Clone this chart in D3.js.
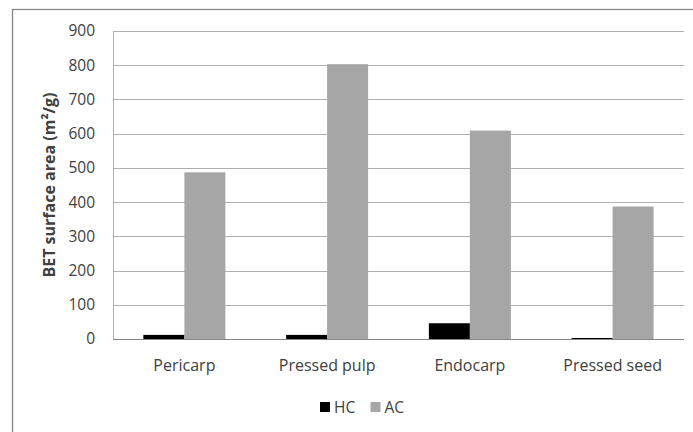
<!DOCTYPE html>
<html>
<head>
<meta charset="utf-8">
<script src="https://cdn.jsdelivr.net/npm/d3@7"></script>
<style>
  html, body { margin: 0; padding: 0; background: #fff; }
  svg { display: block; }
  text { font-family: "Open Sans", "Liberation Sans", sans-serif; fill: #404040; }
</style>
</head>
<body>
<svg id="chart" width="693" height="432"></svg>
<script>
// BET surface area of hydrochar (HC) and activated carbon (AC) by feedstock fraction
const categories = ["Pericarp", "Pressed pulp", "Endocarp", "Pressed seed"];
const seriesNames = ["HC", "AC"];
const hcValues = [12, 12, 46, 3];
const acValues = [487, 803, 609, 387];
const yTicks = [0, 100, 200, 300, 400, 500, 600, 700, 800, 900];
const seriesColors = ["#000000", "#a6a6a6"];

const svg = d3.select("#chart");
const plot = { left: 113, right: 684, top: 31, bottom: 339 };

// outer chart frame
svg.append("rect")
  .attr("x", 12.5).attr("y", 9.5)
  .attr("width", 700).attr("height", 440)
  .attr("fill", "none").attr("stroke", "#868686").attr("stroke-width", 1.3);

const x0 = d3.scaleBand().domain(categories).range([plot.left, plot.right]).paddingInner(0).paddingOuter(0);
const groupWidth = 82;
const x1 = d3.scaleBand().domain(seriesNames)
  .range([(x0.bandwidth() - groupWidth) / 2, (x0.bandwidth() + groupWidth) / 2]);
const y = d3.scaleLinear().domain([0, 900]).range([plot.bottom, plot.top]);

// horizontal gridlines
svg.append("g").selectAll("line").data(yTicks.filter(d => d > 0)).join("line")
  .attr("x1", plot.left).attr("x2", plot.right)
  .attr("y1", d => Math.round(y(d)) + 0.5).attr("y2", d => Math.round(y(d)) + 0.5)
  .attr("stroke", "#b0b0b0").attr("stroke-width", 1);

// y axis tick labels
const yAxis = d3.axisLeft(y).tickValues(yTicks).tickSize(0).tickPadding(18);
const gy = svg.append("g").attr("transform", `translate(${plot.left},0)`).call(yAxis);
gy.select(".domain").remove();
gy.selectAll("text").style("font-size", "15.5px").attr("fill", "#404040");

// bars
const rows = categories.map((c, i) => ({ cat: c, vals: [hcValues[i], acValues[i]] }));
const groups = svg.append("g").selectAll("g").data(rows).join("g")
  .attr("transform", d => `translate(${x0(d.cat)},0)`);
groups.selectAll("rect").data(d => d.vals.map((v, k) => ({ key: seriesNames[k], v, k })))
  .join("rect")
  .attr("x", d => x1(d.key))
  .attr("width", x1.bandwidth())
  .attr("y", d => y(d.v))
  .attr("height", d => plot.bottom - y(d.v))
  .attr("fill", d => seriesColors[d.k]);

// y axis line and x axis line
svg.append("line")
  .attr("x1", plot.left + 0.5).attr("x2", plot.left + 0.5)
  .attr("y1", plot.top).attr("y2", plot.bottom)
  .attr("stroke", "#b0b0b0");
svg.append("line")
  .attr("x1", plot.left).attr("x2", plot.right)
  .attr("y1", plot.bottom + 0.5).attr("y2", plot.bottom + 0.5)
  .attr("stroke", "#868686");

// category labels
const xAxis = d3.axisBottom(x0).tickSize(0).tickPadding(21);
const gx = svg.append("g").attr("transform", `translate(0,${plot.bottom})`).call(xAxis);
gx.select(".domain").remove();
gx.selectAll("text").style("font-size", "16px").attr("fill", "#404040");

// y axis title
svg.append("text")
  .attr("transform", `translate(55,${(plot.top + plot.bottom) / 2}) rotate(-90)`)
  .attr("text-anchor", "middle")
  .style("font-size", "16px").style("font-weight", "bold")
  .attr("fill", "#000")
  .text("BET surface area (m²/g)");

// legend
const legendItems = [{ name: "HC", x: 320 }, { name: "AC", x: 370.5 }];
const lg = svg.append("g").selectAll("g").data(legendItems).join("g")
  .attr("transform", d => `translate(${d.x},402)`);
lg.append("rect").attr("width", 10).attr("height", 10)
  .attr("fill", (d, i) => seriesColors[i]);
lg.append("text").attr("x", 14).attr("y", 11)
  .style("font-size", "15.5px").attr("fill", "#404040")
  .text(d => d.name);
</script>
</body>
</html>
